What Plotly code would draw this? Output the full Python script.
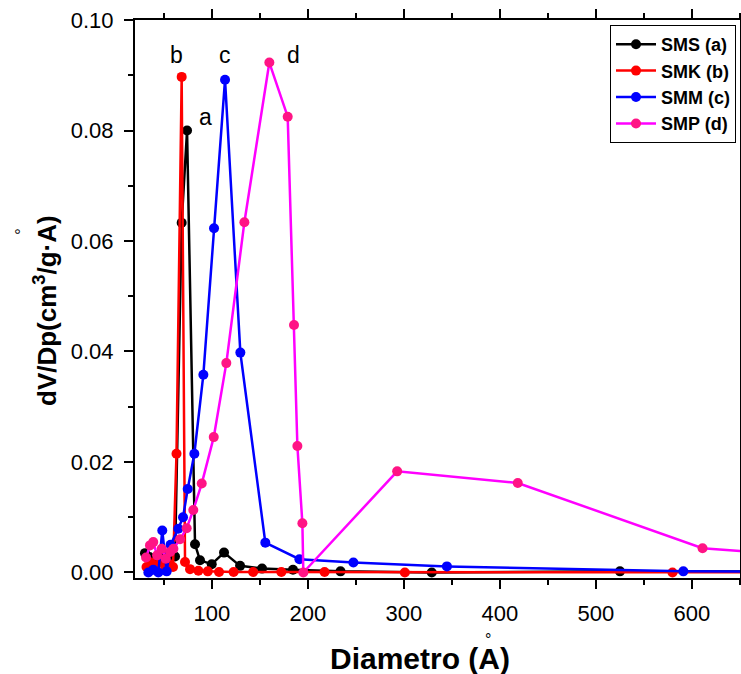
import plotly.graph_objects as go

# Pore size distribution (BJH-style) for four samples
sms_x = [30.4, 35, 40, 45, 50, 55, 61.7, 68.6, 74.2, 82.5, 87.7, 99.9, 112.7, 129.4, 152.3, 184.5, 234, 329, 525, 800]
sms_y = [0.0035, 0.0028, 0.0022, 0.0030, 0.0018, 0.0026, 0.0029, 0.0633, 0.0800, 0.0051, 0.0022, 0.0015, 0.0036,
         0.0012, 0.0007, 0.0005, 0.0002, 0.0000, 0.0002, 0.0001]

smk_x = [32, 37, 42, 47, 52, 56, 59.6, 63.2, 68.6, 72.1, 77.3, 86, 95.8, 107.5, 122.7, 143, 172.4, 217.4, 301, 579.7, 800]
smk_y = [0.0010, 0.0018, 0.0012, 0.0020, 0.0010, 0.0015, 0.0010, 0.0215, 0.0897, 0.0019, 0.0006, 0.0003, 0.0002,
         0.0001, 0.0001, 0.0001, 0.0001, 0.0001, 0.0000, 0.0000, 0.0000]

smm_x = [33.9, 39, 44.3, 48.4, 53, 57, 65.1, 70, 74.9, 81.8, 91.2, 102.3, 113.75, 129.7, 155.7, 191.2, 247.4, 344.8, 591, 800]
smm_y = [0.0000, 0.0005, 0.0000, 0.0076, 0.0002, 0.0050, 0.0079, 0.0100, 0.0151, 0.0215, 0.0358, 0.0623, 0.0892,
         0.0398, 0.0054, 0.0024, 0.0018, 0.0011, 0.0002, 0.0001]

smp_x = [31.5, 35.6, 39, 43, 47.8, 52, 56.5, 60, 66.9, 73.8, 80.7, 89.5, 102, 115.1, 133.9, 159.9, 179, 185.6,
         189.1, 194.3, 195.3, 293, 418.6, 611, 800]
smp_y = [0.0027, 0.0049, 0.0055, 0.0031, 0.0043, 0.0025, 0.0037, 0.0043, 0.0060, 0.0080, 0.0113, 0.0161, 0.0245,
         0.0379, 0.0634, 0.0923, 0.0825, 0.0448, 0.0229, 0.0089, 0.0000, 0.0183, 0.0162, 0.0044, 0.0020]

series = [
    ("SMS (a)", sms_x, sms_y, "#000000", "#000000"),
    ("SMK (b)", smk_x, smk_y, "#FF0000", "#FF0000"),
    ("SMM (c)", smm_x, smm_y, "#0000FF", "#0000FF"),
    ("SMP (d)", smp_x, smp_y, "#FF00FF", "#FF1485"),
]

# Peak labels: (text, x, y)
peak_labels = [("a", 93.1, 0.0824), ("b", 63.4, 0.0936), ("c", 113.75, 0.0936), ("d", 184.9, 0.0936)]

FONT = "Liberation Sans, Arial, sans-serif"

fig = go.Figure()
for name, xs, ys, lc, mc in series:
    fig.add_trace(go.Scatter(
        x=xs, y=ys, name=name, mode="lines+markers",
        line=dict(color=lc, width=2.5),
        marker=dict(color=mc, size=10, symbol="circle"),
    ))

for txt, lx, ly in peak_labels:
    fig.add_annotation(x=lx, y=ly, xref="x", yref="y", text=txt, showarrow=False,
                       font=dict(family=FONT, size=23, color="#000000"),
                       xanchor="center", yanchor="middle")

axis_common = dict(
    showline=True, linecolor="#000000", linewidth=2, mirror="ticks",
    ticks="outside", ticklen=9, tickwidth=2, tickcolor="#000000",
    showgrid=False, zeroline=False, automargin=False,
    tickfont=dict(family=FONT, size=22, color="#000000"),
)

fig.update_xaxes(range=[20, 650], tickmode="array", tickvals=[100, 200, 300, 400, 500, 600],
                 minor=dict(ticks="outside", dtick=50, tick0=0, ticklen=5, tickwidth=2, tickcolor="#000000"),
                 ticklabelstandoff=6, **axis_common)
fig.update_yaxes(range=[-0.001, 0.10], tickmode="array",
                 tickvals=[0.0, 0.02, 0.04, 0.06, 0.08, 0.10], tickformat=".2f",
                 minor=dict(ticks="outside", dtick=0.01, tick0=0, ticklen=5, tickwidth=2, tickcolor="#000000"),
                 ticklabelstandoff=6, **axis_common)

# Axis titles, each with a small ring set above the A (angstrom)
fig.add_annotation(xref="paper", yref="paper", x=0.471, y=-0.1434, text="<b>Diametro (A)</b>",
                   showarrow=False, font=dict(family=FONT, size=30, color="#000000"),
                   xanchor="center", yanchor="middle")
fig.add_annotation(xref="paper", yref="paper", x=0.5835, y=-0.1095, text="°",
                   showarrow=False, font=dict(family=FONT, size=16, color="#000000"),
                   xanchor="center", yanchor="middle")
fig.add_annotation(xref="paper", yref="paper", x=-0.1471, y=0.4785, text="<b>dV/Dp(cm<sup>3</sup>/g·A)</b>",
                   showarrow=False, textangle=-90, font=dict(family=FONT, size=26, color="#000000"),
                   xanchor="center", yanchor="middle")
fig.add_annotation(xref="paper", yref="paper", x=-0.188, y=0.621, text="°",
                   showarrow=False, textangle=-90, font=dict(family=FONT, size=16, color="#000000"),
                   xanchor="center", yanchor="middle")

fig.update_layout(
    width=741, height=674,
    margin=dict(l=135, r=1, t=20, b=96),
    paper_bgcolor="#FFFFFF", plot_bgcolor="#FFFFFF",
    legend=dict(x=0.9934, y=0.991, xanchor="right", yanchor="top",
                bordercolor="#000000", borderwidth=1, bgcolor="#FFFFFF",
                font=dict(family=FONT, size=18, color="#000000", weight="bold"),
                itemwidth=40),
)

fig.write_html("out.html")
